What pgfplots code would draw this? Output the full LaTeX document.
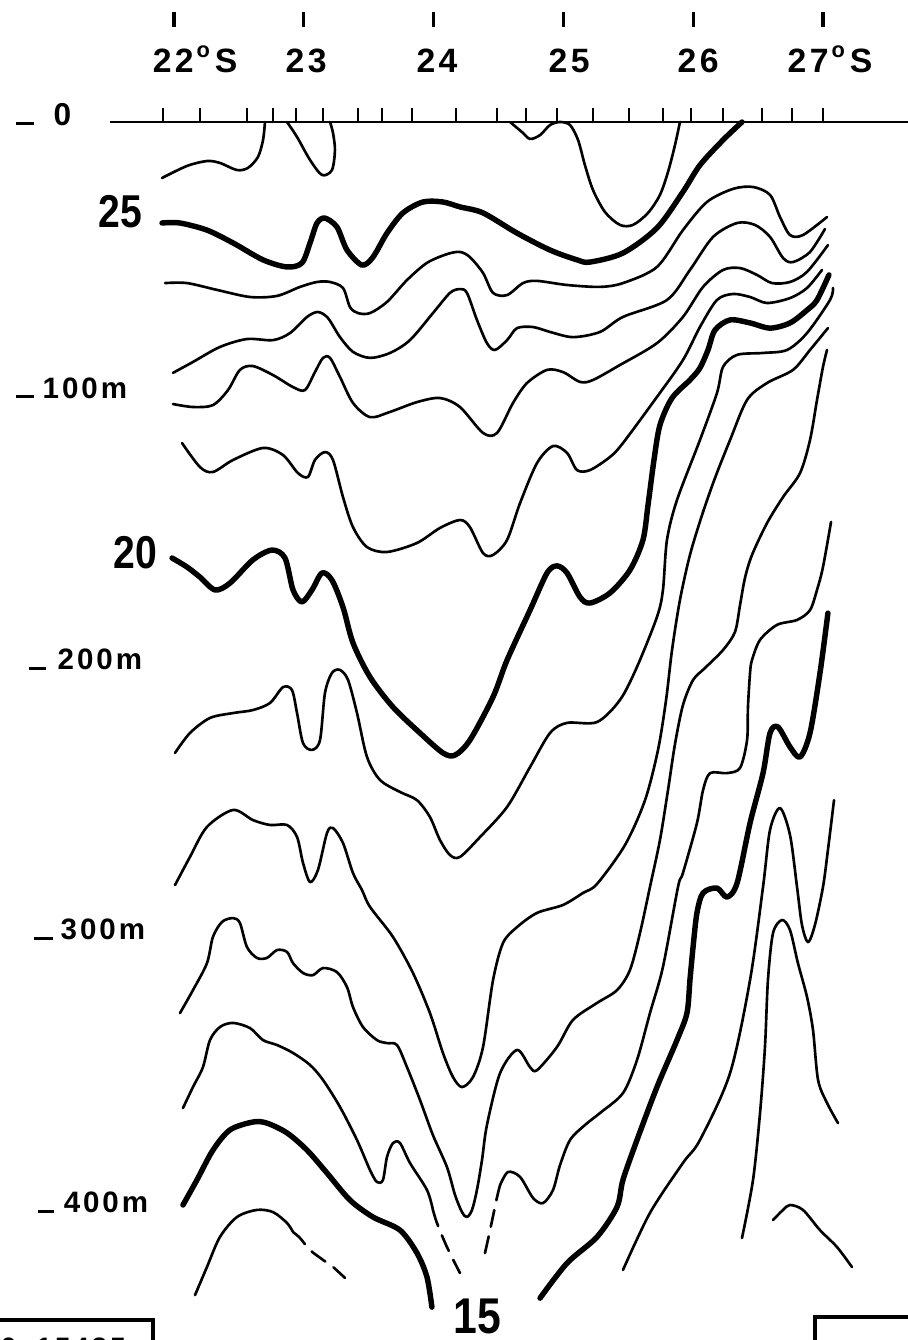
\documentclass[border=0pt]{standalone}
\usepackage{fontspec}
\setmainfont{Liberation Sans}
\newfontfamily\labfont[LetterSpace=10]{Liberation Sans}
\newfontfamily\isofont[FakeStretch=0.85]{Liberation Sans}
\usepackage{pgfplots}
\pgfplotsset{compat=1.18}
\pgfplotsset{
  iso/.style={black, line width=0.75pt, smooth, line cap=round, line join=round},
  heavy/.style={iso, line width=1.55pt},
  dashiso/.style={iso, dash pattern=on 1.7mm off 1mm},
  rulestyle/.style={black, line width=0.8pt},
}
\newcommand\degS{\hspace{0.3mm}\raisebox{1.45mm}{\fontsize{6.2}{6}\selectfont o}\hspace{0.5mm}S}
\begin{document}
\begin{tikzpicture}
\begin{axis}[
  at={(0,0)}, anchor=south west,
  width=90.8mm, height=134mm, scale only axis,
  xmin=20.6595, xmax=27.6549, ymin=-44.69, ymax=446.15, y dir=reverse,
  axis lines=none, clip=false,
]
% sea surface and station marks
\addplot[rulestyle] coordinates {(21.507,0) (27.655,0)};
\pgfplotsinvokeforeach{21.915,22.200,22.562,22.763,22.940,23.148,23.418,23.603,23.834,24.173,24.489,24.712,24.951,25.228,25.505,25.767,25.983,26.230,26.530,26.761,27.000}{
  \addplot[rulestyle] coordinates {(#1,0) (#1,-5.1)};
}
% latitude marks
\pgfplotsinvokeforeach{22,23,24,25,26,27}{
  \addplot[black, line width=0.9pt] coordinates {(#1,-40.3) (#1,-34.8)};
}
\begin{scope}[font=\labfont\bfseries\fontsize{9.6}{10}\selectfont]
\node[anchor=base west, inner sep=0] at (axis cs:21.831,-18.3) {22\degS};
\node[anchor=base west, inner sep=0] at (axis cs:22.855,-18.3) {23};
\node[anchor=base west, inner sep=0] at (axis cs:23.864,-18.3) {24};
\node[anchor=base west, inner sep=0] at (axis cs:24.881,-18.3) {25};
\node[anchor=base west, inner sep=0] at (axis cs:25.875,-18.3) {26};
\node[anchor=base west, inner sep=0] at (axis cs:26.723,-18.3) {27\degS};
\end{scope}
% depth labels
\begin{scope}[font=\labfont\bfseries\fontsize{8.4}{9}\selectfont]
\node[anchor=base west, inner sep=0] at (axis cs:20.775,1.1) {\rule{1.8mm}{0.3mm}\hspace{2mm}{\fontsize{9}{9}\selectfont 0}};
\node[anchor=base west, inner sep=0] at (axis cs:20.775,101.1) {\rule{1.8mm}{0.3mm}\hspace{0.9mm}100m};
\node[anchor=base west, inner sep=0] at (axis cs:20.875,200.7) {\rule{1.7mm}{0.3mm}\hspace{1.2mm}200m};
\node[anchor=base west, inner sep=0] at (axis cs:20.914,299.6) {\rule{1.9mm}{0.3mm}\hspace{0.8mm}300m};
\node[anchor=base west, inner sep=0] at (axis cs:20.945,399.6) {\rule{1.6mm}{0.3mm}\hspace{1.0mm}400m};
\end{scope}
% isotherm values
\node[anchor=base west, inner sep=0, font=\isofont\bfseries\fontsize{13.1}{14}\selectfont] at (axis cs:21.415,38.8) {25};
\node[anchor=base west, inner sep=0, font=\isofont\bfseries\fontsize{13.1}{14}\selectfont] at (axis cs:21.530,163.4) {20};
\node[anchor=base west, inner sep=0, font=\isofont\bfseries\fontsize{14.3}{15}\selectfont] at (axis cs:24.149,443.6) {15};

% 26
\addplot[iso] coordinates {(21.908,20.5) (22.100,16.1) (22.254,14.3) (22.354,15.0) (22.485,17.6) (22.570,16.8) (22.647,12.8) (22.686,6.6) (22.701,0)};
\addplot[iso] coordinates {(22.871,0) (22.948,5.5) (23.048,13.9) (23.140,19.4) (23.217,17.6) (23.240,10.3) (23.225,4.0) (23.202,0)};
\addplot[iso] coordinates {(24.589,0) (24.681,3.7) (24.743,6.2) (24.820,4.8) (24.897,1.1) (24.974,0) (25.051,1.1) (25.113,6.6) (25.166,15.8) (25.228,24.9) (25.321,33.0) (25.436,37.7) (25.536,37.7) (25.652,33.3) (25.744,26.7) (25.806,18.3) (25.860,8.4) (25.898,0)};
% 25
\addplot[heavy] coordinates {(21.908,37.0) (22.046,37.0) (22.254,39.6) (22.455,44.3) (22.686,50.5) (22.871,53.1) (22.986,51.6) (23.048,44.3) (23.102,37.0) (23.163,35.2) (23.256,38.5) (23.333,46.9) (23.448,52.4) (23.533,49.5) (23.641,40.7) (23.764,33.3) (23.918,29.3) (24.072,29.3) (24.203,31.1) (24.381,33.3) (24.643,40.7) (24.897,46.9) (25.105,50.5) (25.205,51.3) (25.459,48.0) (25.721,38.8) (25.921,25.6) (26.052,15.8) (26.230,6.6) (26.376,0)};
% 24
\addplot[iso] coordinates {(21.931,59.0) (22.100,59.0) (22.331,61.5) (22.586,64.1) (22.794,63.7) (22.971,60.4) (23.102,58.6) (23.202,58.6) (23.302,60.8) (23.356,67.8) (23.418,70.0) (23.510,70.0) (23.641,65.9) (23.795,57.9) (23.949,51.6) (24.103,48.4) (24.203,47.6) (24.280,49.5) (24.381,55.3) (24.458,62.6) (24.566,63.4) (24.689,59.0) (24.797,58.2) (25.028,59.7) (25.282,60.4) (25.459,59.0) (25.721,53.1) (25.921,39.6) (26.106,29.3) (26.307,24.5) (26.461,23.8) (26.592,26.7) (26.669,34.8) (26.746,41.4) (26.846,41.4) (27.031,34.8)};
% 23
\addplot[iso] coordinates {(21.992,91.9) (22.146,87.9) (22.354,82.4) (22.562,79.5) (22.763,79.9) (22.894,77.3) (23.025,71.4) (23.109,69.6) (23.186,71.8) (23.279,78.8) (23.379,84.2) (23.510,86.4) (23.664,84.6) (23.818,79.9) (23.995,70.0) (24.126,62.6) (24.203,61.2) (24.257,62.6) (24.334,72.5) (24.411,81.0) (24.473,83.5) (24.566,79.9) (24.643,75.5) (24.766,75.1) (24.897,76.9) (25.074,78.8) (25.282,76.9) (25.459,71.4) (25.798,65.2) (25.975,54.2) (26.153,42.1) (26.338,37.0) (26.476,37.7) (26.592,42.1) (26.692,49.8) (26.769,51.3) (26.900,47.6) (27.015,39.2)};
% 22
\addplot[iso] coordinates {(21.992,103.3) (22.146,104.4) (22.300,103.7) (22.416,98.2) (22.508,90.8) (22.608,89.4) (22.763,92.7) (22.917,97.1) (23.009,98.2) (23.086,91.6) (23.148,86.4) (23.202,86.4) (23.279,93.4) (23.379,102.9) (23.510,108.1) (23.664,106.2) (23.872,102.6) (24.049,101.1) (24.203,104.4) (24.381,113.9) (24.489,113.9) (24.612,102.9) (24.720,95.6) (24.874,90.8) (24.997,91.6) (25.128,95.2) (25.228,94.5) (25.436,89.0) (25.721,81.0) (25.921,71.4) (26.076,60.4) (26.230,54.2) (26.361,53.5) (26.491,56.0) (26.607,59.0) (26.746,58.6) (26.877,54.9) (27.038,45.1)};
% 21
\addplot[iso] coordinates {(22.062,117.6) (22.200,126.4) (22.300,128.2) (22.455,123.8) (22.686,119.4) (22.840,122.0) (22.955,128.6) (23.032,130.0) (23.086,123.8) (23.163,120.9) (23.225,123.8) (23.302,137.4) (23.379,148.4) (23.487,155.7) (23.641,157.5) (23.872,154.2) (24.049,148.7) (24.203,145.8) (24.280,148.4) (24.381,157.9) (24.458,158.6) (24.566,153.1) (24.666,139.6) (24.797,124.9) (24.920,118.7) (25.028,121.2) (25.105,127.5) (25.205,127.5) (25.359,122.7) (25.459,117.6) (25.721,100.7) (25.921,87.2) (26.052,75.1) (26.183,65.2) (26.307,63.0) (26.438,64.1) (26.569,66.3) (26.746,64.5) (26.877,60.8) (26.992,54.2)};
% 20
\addplot[heavy] coordinates {(21.985,159.7) (22.100,163.0) (22.200,166.7) (22.316,171.4) (22.431,168.9) (22.608,160.4) (22.755,156.8) (22.855,159.7) (22.917,171.4) (22.986,175.8) (23.063,171.4) (23.140,165.2) (23.217,167.8) (23.302,177.7) (23.379,190.8) (23.510,203.3) (23.687,214.3) (23.895,223.8) (24.072,231.1) (24.165,231.9) (24.280,226.4) (24.458,210.6) (24.566,197.1) (24.743,178.8) (24.874,165.2) (24.951,162.6) (25.028,165.2) (25.128,174.0) (25.205,176.2) (25.359,172.5) (25.513,164.1) (25.613,153.1) (25.652,140.3) (25.698,123.8) (25.744,111.0) (25.837,101.1) (25.975,94.5) (26.052,90.1) (26.114,83.5) (26.168,76.2) (26.284,72.5) (26.438,73.6) (26.592,75.5) (26.746,73.6) (26.877,68.9) (26.954,65.2) (27.046,56.0)};
% 19
\addplot[iso] coordinates {(22.008,231.1) (22.123,223.8) (22.277,218.3) (22.455,216.5) (22.608,215.4) (22.740,212.8) (22.840,207.0) (22.909,208.1) (22.948,216.5) (22.994,227.5) (23.063,230.0) (23.125,226.4) (23.163,209.2) (23.217,201.8) (23.279,200.7) (23.341,204.4) (23.410,216.5) (23.487,232.6) (23.587,241.0) (23.741,245.4) (23.872,248.4) (23.972,254.6) (24.049,263.0) (24.126,268.5) (24.203,269.2) (24.358,261.9) (24.566,250.9) (24.743,236.3) (24.897,223.8) (25.028,220.1) (25.259,219.8) (25.436,211.7) (25.567,199.6) (25.721,181.3) (25.767,171.4) (25.798,153.1) (25.875,138.5) (26.052,116.5) (26.183,99.3) (26.230,89.7) (26.338,85.3) (26.538,84.6) (26.723,83.5) (26.877,77.3) (27.054,65.2) (27.077,60.8)};
% 18
\addplot[iso] coordinates {(22.008,279.5) (22.123,269.2) (22.254,258.2) (22.455,252.0) (22.608,255.7) (22.740,257.5) (22.871,257.5) (22.948,261.9) (22.994,271.4) (23.048,278.4) (23.109,274.0) (23.179,260.4) (23.225,258.6) (23.302,264.1) (23.379,275.1) (23.448,281.3) (23.510,287.5) (23.687,298.5) (23.841,311.7) (23.972,326.4) (24.072,341.0) (24.149,349.8) (24.219,353.5) (24.304,349.8) (24.381,338.8) (24.458,314.3) (24.535,300.7) (24.643,294.9) (24.797,289.7) (24.997,286.8) (25.151,282.4) (25.259,279.1) (25.475,264.8) (25.629,248.4) (25.729,230.0) (25.791,211.7) (25.837,193.4) (25.898,175.1) (25.975,158.6) (26.068,144.0) (26.168,130.4) (26.284,116.5) (26.415,101.8) (26.569,95.6) (26.769,90.8) (26.900,83.5) (27.038,75.5)};
% 17
\addplot[iso] coordinates {(22.046,326.4) (22.146,318.0) (22.254,308.1) (22.300,298.5) (22.370,293.0) (22.455,291.6) (22.508,293.4) (22.562,302.2) (22.639,306.2) (22.716,306.2) (22.794,303.3) (22.871,304.0) (22.917,308.1) (22.994,311.7) (23.071,312.5) (23.148,309.9) (23.256,311.4) (23.333,316.9) (23.379,324.2) (23.456,331.5) (23.564,336.3) (23.641,337.4) (23.718,338.1) (23.795,346.2) (23.895,358.2) (23.995,371.1) (24.103,382.8) (24.165,393.0) (24.219,399.3) (24.257,401.1) (24.296,398.5) (24.334,391.2) (24.373,380.2) (24.411,367.4) (24.512,348.4) (24.643,339.9) (24.743,346.2) (24.797,347.3) (24.951,338.8) (25.074,328.9) (25.259,322.7) (25.413,318.0) (25.513,310.6) (25.590,297.1) (25.667,280.2) (25.744,263.0) (25.806,244.7) (25.860,227.8) (25.921,213.6) (25.999,204.4) (26.091,200.0) (26.230,193.4) (26.322,186.8) (26.361,176.9) (26.399,167.0) (26.453,158.6) (26.569,146.9) (26.692,137.4) (26.823,128.6) (26.900,116.5) (26.954,101.8) (27.000,89.7) (27.031,83.5)};
% 16
\addplot[iso] coordinates {(22.069,361.2) (22.146,353.5) (22.223,346.2) (22.277,336.3) (22.354,331.5) (22.455,330.0) (22.586,331.9) (22.686,336.3) (22.794,338.1) (22.917,341.0) (23.048,345.4) (23.148,350.9) (23.279,360.8) (23.410,372.9) (23.510,383.9) (23.564,388.3) (23.610,387.5) (23.641,379.1) (23.687,374.0) (23.741,374.0) (23.818,381.3) (23.949,391.2) (23.995,398.5)};
\addplot[dashiso] coordinates {(23.995,398.5) (24.026,403.3) (24.103,412.1) (24.203,421.6)};
\addplot[dashiso] coordinates {(24.396,414.3) (24.435,405.9) (24.489,393.8) (24.512,389.4)};
\addplot[iso] coordinates {(24.512,389.4) (24.573,384.6) (24.666,386.4) (24.766,394.1) (24.843,396.0) (24.920,391.2) (24.974,382.1) (25.051,372.9) (25.166,367.4) (25.282,363.0) (25.459,355.7) (25.567,343.6) (25.667,326.4) (25.767,309.5) (25.883,280.2) (25.921,275.1) (26.029,256.8) (26.076,244.7) (26.130,238.5) (26.260,238.5) (26.361,236.6) (26.415,226.4) (26.422,214.3) (26.438,201.8) (26.453,197.1) (26.515,189.7) (26.646,184.2) (26.800,182.4) (26.900,178.8) (26.954,171.4) (27.000,163.0) (27.062,146.5)};
% 15
\addplot[heavy] coordinates {(22.069,396.7) (22.177,387.5) (22.300,376.6) (22.431,369.2) (22.608,366.3) (22.716,366.7) (22.871,370.3) (23.025,376.6) (23.179,385.0) (23.356,394.9) (23.533,401.1) (23.741,405.9) (23.872,414.3) (23.949,423.1) (23.987,434.1)};
\addplot[heavy] coordinates {(24.820,430.8) (25.028,418.0) (25.259,408.4) (25.413,397.4) (25.459,387.5) (25.567,372.9) (25.721,353.5) (25.875,336.3) (25.952,326.4) (25.975,314.3) (25.999,302.2) (26.029,289.7) (26.076,282.4) (26.183,280.6) (26.260,283.9) (26.338,278.8) (26.438,256.8) (26.538,238.5) (26.592,223.8) (26.653,221.6) (26.746,228.9) (26.823,232.6) (26.900,223.8) (26.977,201.8) (27.038,179.9)};
% 14
\addplot[iso] coordinates {(22.162,429.7) (22.254,419.4) (22.354,408.4) (22.485,401.1) (22.639,398.5) (22.763,399.3) (22.871,403.3) (22.917,406.6)};
\addplot[dashiso] coordinates {(22.917,406.6) (22.971,408.8) (23.048,413.2) (23.148,416.8) (23.225,419.4) (23.317,423.4)};
\addplot[iso] coordinates {(27.085,248.4) (27.038,266.7) (27.000,280.2) (26.938,294.1) (26.885,300.4) (26.838,294.1) (26.800,280.2) (26.746,261.2) (26.669,251.3) (26.592,259.3) (26.538,280.2) (26.438,314.3) (26.284,348.4) (26.052,372.9) (25.921,381.3) (25.667,399.6) (25.459,420.5)};
% 13
\addplot[iso] coordinates {(26.376,408.8) (26.461,387.5) (26.515,363.0) (26.553,338.8) (26.576,314.3) (26.615,297.1) (26.684,292.3) (26.746,296.0) (26.807,308.1) (26.877,320.5) (26.923,332.6) (26.962,350.9) (27.031,359.3) (27.116,366.7)};
\addplot[iso] coordinates {(26.615,402.2) (26.692,398.5) (26.746,396.7) (26.846,398.5) (26.977,405.9) (27.108,412.1) (27.223,419.4)};

% caption frames along the lower edge
\addplot[black, line width=1.1pt] coordinates {(20.655,438.8) (21.838,438.8) (21.838,447)};
\addplot[black, line width=1.1pt] coordinates {(26.938,447) (26.938,437.7) (27.66,437.7)};
\node[anchor=base west, inner sep=0, font=\labfont\bfseries\fontsize{8}{9}\selectfont] at (axis cs:20.66,452.4) {0\hspace{2mm}15435};
\end{axis}
\pgfresetboundingbox
\path[use as bounding box] (current axis.south west) rectangle (current axis.north east);
\end{tikzpicture}
\end{document}
